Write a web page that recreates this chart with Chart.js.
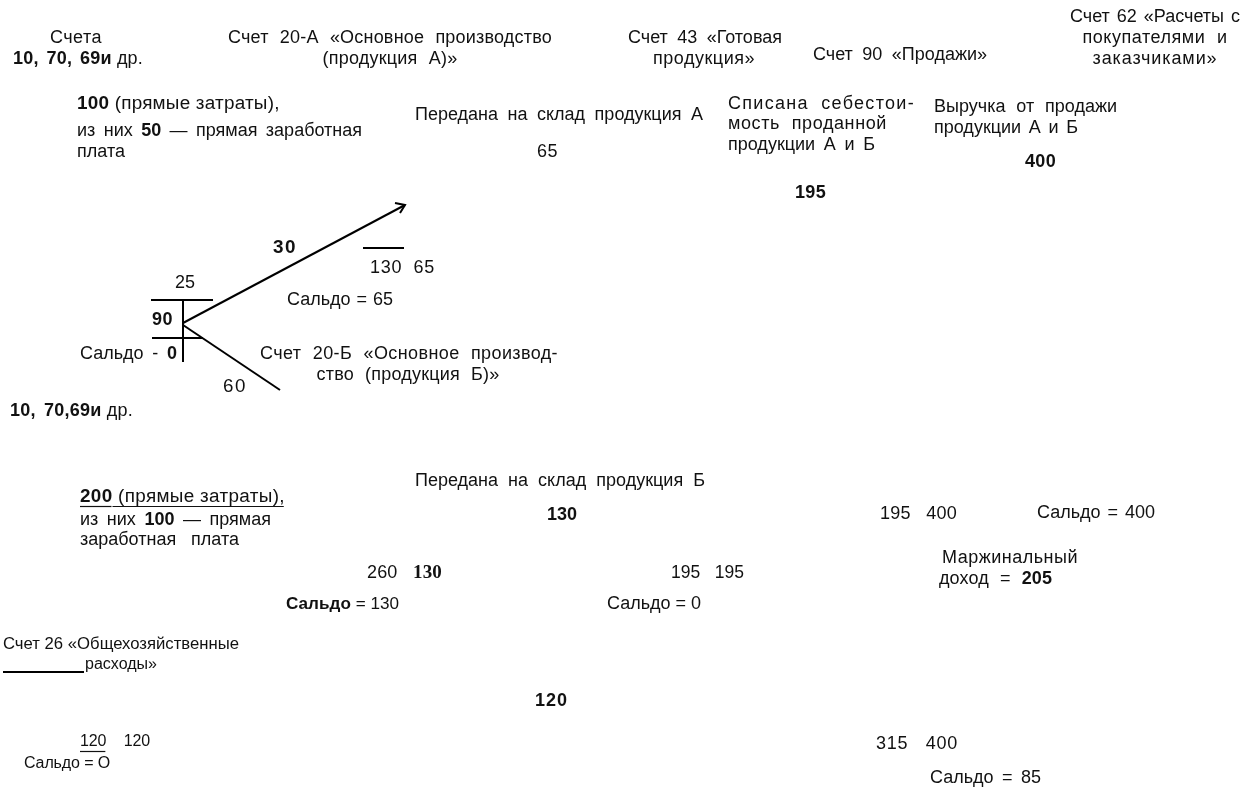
<!DOCTYPE html>
<html>
<head>
<meta charset="utf-8">
<script src="https://cdn.jsdelivr.net/npm/chart.js@4"></script>
<style>
html,body{margin:0;padding:0;background:#fff;}
#wrap{width:1257px;height:795px;position:relative;}
</style>
</head>
<body>
<div id="wrap"><canvas id="c"></canvas></div>
<script>
// ---------- DATA (texts and amounts) ----------
// run style codes: n normal, b bold, u underlined, ub underlined bold, t serif bold
const accountTitles = [
  [["Счета","n"]],
  [["10, 70, 69и","b"],[" др.","n"]],
  [["Счет 20-А «Основное производство","n"]],
  [["(продукция А)»","n"]],
  [["Счет 43 «Готовая","n"]],
  [["продукция»","n"]],
  [["Счет 90 «Продажи»","n"]],
  [["Счет 62 «Расчеты с","n"]],
  [["покупателями и","n"]],
  [["заказчиками»","n"]],
  [["Счет 20-Б «Основное производ-","n"]],
  [["ство (продукция Б)»","n"]],
  [["10, 70,69и","b"],[" др.","n"]],
  [["Счет 26 «Общехозяйственные","n"]],
  [["расходы»","n"]]
];
const operationNotes = [
  [["100","b"],[" (прямые затраты),","n"]],
  [["из них ","n"],["50","b"],[" — прямая заработная","n"]],
  [["плата","n"]],
  [["Передана на склад продукция А","n"]],
  [["Списана себестои-","n"]],
  [["мость проданной","n"]],
  [["продукции А и Б","n"]],
  [["Выручка от продажи","n"]],
  [["продукции А и Б","n"]],
  [["Передана на склад продукция Б","n"]],
  [["200","ub"],[" (прямые затраты),","u"]],
  [["из них ","n"],["100","b"],[" — прямая","n"]],
  [["заработная  плата","n"]],
  [["Маржинальный","n"]]
];
const postedAmounts = [
  [["65","n"]],
  [["400","b"]],
  [["195","b"]],
  [["30","b"]],
  [["130  65","n"]],
  [["25","n"]],
  [["90","b"]],
  [["60","n"]],
  [["130","b"]],
  [["260   ","n"],["130","t"]],
  [["195   195","n"]],
  [["195   400","n"]],
  [["120","b"]],
  [["120","u"],["    120","n"]],
  [["315   400","n"]]
];
const balanceLabels = [
  [["Сальдо = 65","n"]],
  [["Сальдо - ","n"],["0","b"]],
  [["Сальдо","b"],[" = 130","n"]],
  [["Сальдо = 0","n"]],
  [["Сальдо = 400","n"]],
  [["доход = ","n"],["205","b"]],
  [["Сальдо = О","n"]],
  [["Сальдо = 85","n"]]
];

// ---------- LAYOUT (canvas units: x, y-centre, align, target width) ----------
const accountTitlesLayout = [
  [76,38,"c",52],[13,59,"l",130],[390,38,"c",324],[390,59,"c",135],[705,38,"c",154],[704,59,"c",102],
  [813,55,"l",174],[1155,17,"c",170],[1155,38,"c",145],[1155,59,"c",125],[409,354,"c",298],[408,375,"c",183],
  [10,411,"l",123],[3,644,"l",236],[85,665,"l",72]
];
const operationNotesLayout = [
  [77,104,"l",205],[77,131,"l",285],[77,152,"l",48],[415,115,"l",288],[728,104,"l",187],[728,124,"l",159],
  [728,145,"l",147],[934,107,"l",183],[934,128,"l",144],[415,481,"l",290],[80,497,"l",207],[80,520,"l",191],
  [80,540,"l",159],[942,558,"l",136]
];
const postedAmountsLayout = [
  [537,152,"l",21],[1025,162,"l",31],[795,193,"l",31],[273,248,"l",25],[370,268,"l",65],[175,283,"l",20],
  [152,320,"l",21],[223,387,"l",24],[547,515,"l",30],[367,573,"l",75],[671,573,"l",73],[880,514,"l",77],
  [535,701,"l",33],[80,742,"l",70],[876,744,"l",82]
];
const balanceLabelsLayout = [
  [287,300,"l",106],[80,354,"l",97],[286,604,"l",113],[607,604,"l",94],[1037,513,"l",118],[939,579,"l",113],
  [24,764,"l",86],[930,778,"l",111]
];

// connector strokes of the T-accounts and arrows
const strokes = [
  [[151,300],[213,300]],
  [[183,300],[183,362]],
  [[152,338],[203,338]],
  [[183,323],[405,205]],
  [[395,203],[405,205],[400,213]],
  [[183,325],[280,390]],
  [[363,248],[404,248]],
  [[3,672],[84,672]]
];

const groups = [
  {texts: accountTitles, layout: accountTitlesLayout},
  {texts: operationNotes, layout: operationNotesLayout},
  {texts: postedAmounts, layout: postedAmountsLayout},
  {texts: balanceLabels, layout: balanceLabelsLayout}
];

const FS = 18;
const fontFor = (s, size) => {
  if (s === 't') return 'bold ' + (size + 1).toFixed(1) + 'px "Liberation Serif", "Times New Roman", serif';
  return (s === 'b' || s === 'ub' ? 'bold ' : '') + size.toFixed(1) + 'px "Liberation Sans", Arial, sans-serif';
};
const clamp = (v, a, b) => Math.max(a, Math.min(b, v));

const textPlugin = {
  id: 'diagramTexts',
  afterDatasetsDraw(chart) {
    const ctx = chart.ctx, sx = chart.scales.x, sy = chart.scales.y;
    const hasLS = ('letterSpacing' in ctx), hasWS = ('wordSpacing' in ctx);
    ctx.save();
    ctx.fillStyle = '#111';
    ctx.strokeStyle = '#111';
    ctx.textBaseline = 'middle';
    ctx.textAlign = 'left';
    groups.forEach(g => g.texts.forEach((runs, i) => {
      const [lx, ly, align, w] = g.layout[i];
      const target = sx.getPixelForValue(lx + w) - sx.getPixelForValue(lx);
      let size = FS;
      const measure = () => runs.map(([t, s]) => { ctx.font = fontFor(s, size); return ctx.measureText(t).width; });
      const sum = a => a.reduce((p, q) => p + q, 0);
      if (hasLS) ctx.letterSpacing = '0px';
      if (hasWS) ctx.wordSpacing = '0px';
      let widths = measure();
      let total = sum(widths);
      if (total > target) {
        size = clamp(FS * target / total, 16, FS);
        widths = measure(); total = sum(widths);
      }
      const text = runs.map(r => r[0]).join('');
      const nChars = text.length;
      const nSpaces = (text.match(/ /g) || []).length;
      if (hasWS && nSpaces > 0 && /[^\d ]/.test(text) && total < target) {
        const ws = clamp((target - total) / nSpaces, 0, 6);
        ctx.wordSpacing = ws.toFixed(2) + 'px';
        widths = measure(); total = sum(widths);
      }
      if (hasLS) {
        const ls = clamp((target - total) / nChars, -0.3, 1.5);
        ctx.letterSpacing = ls.toFixed(2) + 'px';
        widths = measure(); total = sum(widths);
      }
      const f = clamp(target / total, 0.95, 1.05);
      let px = sx.getPixelForValue(lx);
      const py = sy.getPixelForValue(ly);
      if (align === 'c') px -= total * f / 2;
      ctx.save();
      ctx.translate(px, py);
      ctx.scale(f, 1);
      let cx = 0;
      runs.forEach(([t, s], k) => {
        ctx.font = fontFor(s, size);
        ctx.fillText(t, cx, 0);
        if (s === 'u' || s === 'ub') {
          ctx.lineWidth = 1.2;
          ctx.beginPath();
          ctx.moveTo(cx, 9.5);
          ctx.lineTo(cx + widths[k] - 1, 9.5);
          ctx.stroke();
        }
        cx += widths[k];
      });
      ctx.restore();
    }));
    ctx.restore();
  }
};

new Chart(document.getElementById('c'), {
  type: 'scatter',
  data: {
    datasets: strokes.map(pts => ({
      data: pts.map(([x, y]) => ({x, y})),
      showLine: true,
      borderColor: '#000',
      borderWidth: 2,
      pointRadius: 0,
      pointHoverRadius: 0,
      tension: 0,
      fill: false
    }))
  },
  options: {
    responsive: true,
    maintainAspectRatio: false,
    animation: false,
    layout: {padding: 0},
    plugins: {legend: {display: false}, tooltip: {enabled: false}, title: {display: false}},
    events: [],
    scales: {
      x: {type: 'linear', min: 0, max: 1257, display: false},
      y: {type: 'linear', min: 0, max: 795, reverse: true, display: false}
    }
  },
  plugins: [textPlugin]
});
</script>
</body>
</html>
